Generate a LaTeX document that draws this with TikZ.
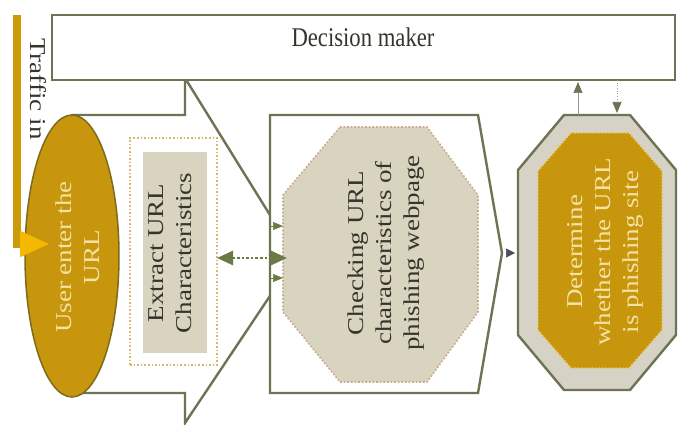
\documentclass[tikz,border=0pt]{standalone}
\usepackage{fontspec}
\setmainfont{Liberation Serif}
\newfontfamily\condserif[FakeStretch=0.84]{Liberation Serif}
\usepackage{graphicx}
\usetikzlibrary{arrows.meta,shapes.geometric}
\definecolor{oliveline}{HTML}{6E7353}
\definecolor{goldfill}{HTML}{C8960C}
\definecolor{goldedge}{HTML}{7D6A1E}
\definecolor{beigefill}{HTML}{D9D4BF}
\definecolor{greyfill}{HTML}{D6D3C6}
\definecolor{paletext}{HTML}{F4E2A4}
\definecolor{darktext}{HTML}{35352C}
\definecolor{dotgold}{HTML}{D5B96A}
\definecolor{dotpink}{HTML}{C9A98C}
\definecolor{dotlight}{HTML}{EDCB6A}
\definecolor{arrowdark}{HTML}{4E4E5A}
\definecolor{arrowgreen}{HTML}{6B7A45}
\definecolor{trafficgold}{HTML}{CC9A06}
\definecolor{trafficyellow}{HTML}{F5B800}
\newcommand\vtxt[2][90]{\rotatebox{#1}{\scalebox{1}[0.84]{\fontsize{27}{33}\selectfont\begin{tabular}{@{}c@{}}#2\end{tabular}}}}
\tikzset{
  frame/.style={draw=oliveline, line width=2.4, fill=white, line join=miter},
  txt/.style={inner sep=0, outer sep=0},
  smallhead/.style={-{Triangle[width=8,length=10]}, arrowgreen},
}
\begin{document}
\begin{tikzpicture}[x=1pt,y=-1pt]
\useasboundingbox (0,0) rectangle (678,425);
\fill[white] (0,0) rectangle (678,425);
% big block arrow
\draw[frame] (72,115) -- (185,115) -- (185,78) -- (296,257) -- (185,423) -- (185,393) -- (72,393) -- cycle;
% decision maker
\node[frame, rectangle, minimum width=623, minimum height=65, inner sep=0] (dm) at (363.5,47.5) {};
\node[txt, text=darktext] (dmlabel) at (363,37) {\condserif\fontsize{27}{32}\selectfont Decision maker};
% ellipse
\node[ellipse, draw=goldedge, line width=1.5, fill=goldfill, minimum width=94, minimum height=282, inner sep=0] (user) at (72,256) {};
\node[txt, text=paletext] (usertxt) at (80,257) {\vtxt{User enter the\\URL}};
% traffic in
\coordinate (trafficTop) at (17,15);
\coordinate (trafficEnd) at (50,244);
\draw[trafficgold, line width=8, -{Triangle[width=24,length=30,fill=trafficyellow,color=trafficyellow]}] (trafficTop) |- (trafficEnd);
\node[txt, text=darktext] (traffic) at (36,89) {\vtxt[-90]{Traffic in}};
% extract
\node[draw=dotgold, dotted, line width=1.6, minimum width=87, minimum height=227, inner sep=0] (extract) at (173.5,251.5) {};
\node[fill=beigefill, minimum width=64, minimum height=201, inner sep=0] (extractin) at (175,252.5) {};
\node[txt, text=darktext] (extracttxt) at (172,253) {\vtxt{Extract URL\\Characteristics}};
% checking pentagon
\draw[frame] (270,115) -- (478,115) -- (502,253) -- (478,393) -- (270,393) -- cycle;
\coordinate (chktip) at (502,253);
\fill[beigefill] (340,127) -- (427,127) -- (478,195) -- (478,312) -- (427,382) -- (340,382) -- (283,312) -- (283,195) -- cycle;
\draw[dotpink, dotted, line width=1.6] (340,127) -- (427,127) -- (478,195) -- (478,312) -- (427,382) -- (340,382) -- (283,312) -- (283,195) -- cycle;
\node[txt, text=darktext] (chktxt) at (386,253) {\vtxt{Checking URL\\characteristics of\\phishing webpage}};
% arrows into checking
\coordinate (ext-e) at (217,258);
\coordinate (chk-w) at (287,258);
\draw[arrowgreen, line width=2.6, dotted, {Triangle[width=14,length=16]}-{Triangle[width=14,length=16]}] (ext-e) -- (chk-w);
\coordinate (bigA1) at (270,226);
\coordinate (chkA1) at (283,226);
\coordinate (bigA2) at (270,278);
\coordinate (chkA2) at (283,278);
\draw[smallhead, line width=0.6] (bigA1) -- (chkA1);
\draw[smallhead, line width=0.6] (bigA2) -- (chkA2);
% determine octagon
\draw[draw=oliveline, line width=2.4, fill=greyfill] (564,115) -- (630,115) -- (676,170) -- (676,335) -- (630,390) -- (564,390) -- (518,335) -- (518,170) -- cycle;
\coordinate (det-w) at (518,253);
\coordinate (det-n1) at (578,115);
\coordinate (det-n2) at (617,115);
\fill[goldfill] (571,133) -- (629,133) -- (662,171) -- (662,330) -- (629,368) -- (571,368) -- (538,330) -- (538,171) -- cycle;
\draw[dotlight, dotted, line width=1.4] (571,133) -- (629,133) -- (662,171) -- (662,330) -- (629,368) -- (571,368) -- (538,330) -- (538,171) -- cycle;
\node[txt, text=paletext] (dettxt) at (605,252) {\vtxt{Determine\\whether the URL\\is phishing site}};
% connectors
\draw[arrowdark, line width=0.5, shorten <=5, shorten >=3, -{Triangle[width=9,length=9]}] (chktip) -- (det-w);
\coordinate (dm-s1) at (578,80);
\coordinate (dm-s2) at (617,80);
\draw[oliveline!70, line width=0.7, -{Triangle[width=9,length=11,color=oliveline]}, shorten >=2] (det-n1) -- (dm-s1);
\draw[oliveline!70, line width=0.7, dotted, -{Triangle[width=9,length=11,color=oliveline]}, shorten >=2] (dm-s2) -- (det-n2);
\end{tikzpicture}
\end{document}
